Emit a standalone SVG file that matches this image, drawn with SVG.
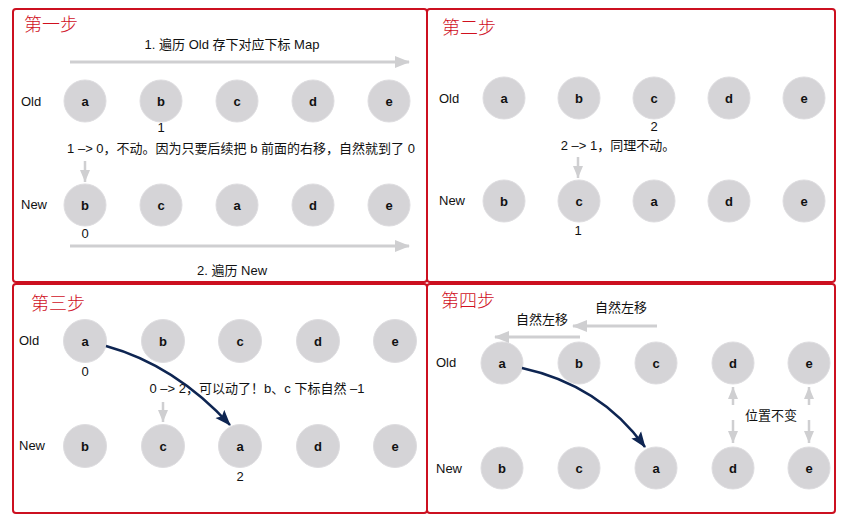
<svg xmlns="http://www.w3.org/2000/svg" width="846" height="517" viewBox="0 0 846 517">
<style>
.panel{fill:#fff;stroke:#cc1020;stroke-width:2}
.title{font-family:"Noto Sans CJK SC","Liberation Sans",sans-serif;font-size:18px;font-weight:300;fill:#d0101e}
.t{font-family:"Liberation Sans","Noto Sans CJK SC",sans-serif;font-size:13px;fill:#111}
.lbl{font-family:"Liberation Sans","Noto Sans CJK SC",sans-serif;font-size:13px;fill:#111}
.n circle{fill:#d5d4d7;stroke:#dedde0;stroke-width:1}
.n text{font-family:"Liberation Sans",sans-serif;font-size:13px;fill:#111;text-anchor:middle;font-weight:bold}
.ga{stroke:#cfcfd1;stroke-width:3;fill:none}
.gs{stroke:#cfcfd1;stroke-width:2.5;fill:none}
.nv{stroke:#0e2552;stroke-width:2.5;fill:none}
</style>
<defs>
<marker id="ghead" markerUnits="userSpaceOnUse" markerWidth="16" markerHeight="14" refX="14" refY="7" orient="auto"><path d="M0,1 L15,7 L0,13 Z" fill="#cfcfd1"/></marker>
<marker id="gsmall" markerUnits="userSpaceOnUse" markerWidth="14" markerHeight="11" refX="12" refY="5.5" orient="auto"><path d="M0,0.5 L12,5.5 L0,10.5 Z" fill="#cfcfd1"/></marker>
<marker id="nhead" markerUnits="userSpaceOnUse" markerWidth="18" markerHeight="14" refX="15" refY="7" orient="auto"><path d="M0,1 L16,7 L0,13 L3,7 Z" fill="#0e2552"/></marker>
</defs>
<rect width="846" height="517" fill="#fff"/>
<g id="panel1">
<rect class="panel" x="13" y="9" width="414" height="273" rx="3"/>
<text class="title" x="24" y="31">第一步</text>
<text class="t" x="232" y="49" text-anchor="middle">1. 遍历 Old 存下对应下标 Map</text>
<text class="lbl" x="21" y="106">Old</text>
<text class="lbl" x="21" y="209">New</text>
<text class="t" x="161" y="132" text-anchor="middle">1</text>
<text class="t" x="241" y="153" text-anchor="middle">1 –&gt; 0，不动。因为只要后续把 b 前面的右移，自然就到了 0</text>
<text class="t" x="85" y="238" text-anchor="middle">0</text>
<text class="t" x="232" y="275" text-anchor="middle">2. 遍历 New</text>
</g>
<g id="p1-old-a" class="n"><circle cx="85" cy="101" r="21"/><text x="85" y="106">a</text></g>
<g id="p1-old-b" class="n"><circle cx="161" cy="101" r="21"/><text x="161" y="106">b</text></g>
<g id="p1-old-c" class="n"><circle cx="237" cy="101" r="21"/><text x="237" y="106">c</text></g>
<g id="p1-old-d" class="n"><circle cx="313" cy="101" r="21"/><text x="313" y="106">d</text></g>
<g id="p1-old-e" class="n"><circle cx="389" cy="101" r="21"/><text x="389" y="106">e</text></g>
<g id="p1-new-b" class="n"><circle cx="85" cy="205" r="21"/><text x="85" y="210">b</text></g>
<g id="p1-new-c" class="n"><circle cx="161" cy="205" r="21"/><text x="161" y="210">c</text></g>
<g id="p1-new-a" class="n"><circle cx="237" cy="205" r="21"/><text x="237" y="210">a</text></g>
<g id="p1-new-d" class="n"><circle cx="313" cy="205" r="21"/><text x="313" y="210">d</text></g>
<g id="p1-new-e" class="n"><circle cx="389" cy="205" r="21"/><text x="389" y="210">e</text></g>

<g id="panel2">
<rect class="panel" x="427" y="9" width="408" height="273" rx="3"/>
<text class="title" x="442" y="34">第二步</text>
<text class="lbl" x="439" y="103">Old</text>
<text class="lbl" x="439" y="205">New</text>
<text class="t" x="654" y="131" text-anchor="middle">2</text>
<text class="t" x="618" y="150" text-anchor="middle">2 –&gt; 1，同理不动。</text>
<text class="t" x="578" y="235" text-anchor="middle">1</text>
</g>
<g id="p2-old-a" class="n"><circle cx="504" cy="98" r="21"/><text x="504" y="103">a</text></g>
<g id="p2-old-b" class="n"><circle cx="579" cy="98" r="21"/><text x="579" y="103">b</text></g>
<g id="p2-old-c" class="n"><circle cx="654" cy="98" r="21"/><text x="654" y="103">c</text></g>
<g id="p2-old-d" class="n"><circle cx="729" cy="98" r="21"/><text x="729" y="103">d</text></g>
<g id="p2-old-e" class="n"><circle cx="804" cy="98" r="21"/><text x="804" y="103">e</text></g>
<g id="p2-new-b" class="n"><circle cx="504" cy="201" r="21"/><text x="504" y="206">b</text></g>
<g id="p2-new-c" class="n"><circle cx="579" cy="201" r="21"/><text x="579" y="206">c</text></g>
<g id="p2-new-a" class="n"><circle cx="654" cy="201" r="21"/><text x="654" y="206">a</text></g>
<g id="p2-new-d" class="n"><circle cx="729" cy="201" r="21"/><text x="729" y="206">d</text></g>
<g id="p2-new-e" class="n"><circle cx="804" cy="201" r="21"/><text x="804" y="206">e</text></g>

<g id="panel3">
<rect class="panel" x="13" y="284" width="414" height="229" rx="3"/>
<text class="title" x="31" y="310">第三步</text>
<text class="lbl" x="19" y="345">Old</text>
<text class="lbl" x="19" y="450">New</text>
<text class="t" x="85" y="376" text-anchor="middle">0</text>
<text class="t" x="257" y="393" text-anchor="middle">0 –&gt; 2，可以动了！b、c 下标自然 –1</text>
<text class="t" x="240" y="481" text-anchor="middle">2</text>
</g>
<g id="p3-old-a" class="n"><circle cx="85" cy="341" r="21.5"/><text x="85" y="346">a</text></g>
<g id="p3-old-b" class="n"><circle cx="163" cy="341" r="21.5"/><text x="163" y="346">b</text></g>
<g id="p3-old-c" class="n"><circle cx="240" cy="341" r="21.5"/><text x="240" y="346">c</text></g>
<g id="p3-old-d" class="n"><circle cx="318" cy="341" r="21.5"/><text x="318" y="346">d</text></g>
<g id="p3-old-e" class="n"><circle cx="395" cy="341" r="21.5"/><text x="395" y="346">e</text></g>
<g id="p3-new-b" class="n"><circle cx="85" cy="446" r="21.5"/><text x="85" y="451">b</text></g>
<g id="p3-new-c" class="n"><circle cx="163" cy="446" r="21.5"/><text x="163" y="451">c</text></g>
<g id="p3-new-a" class="n"><circle cx="240" cy="446" r="21.5"/><text x="240" y="451">a</text></g>
<g id="p3-new-d" class="n"><circle cx="318" cy="446" r="21.5"/><text x="318" y="451">d</text></g>
<g id="p3-new-e" class="n"><circle cx="395" cy="446" r="21.5"/><text x="395" y="451">e</text></g>

<g id="panel4">
<rect class="panel" x="427" y="284" width="408" height="229" rx="3"/>
<text class="title" x="441" y="307">第四步</text>
<text class="t" x="621" y="312" text-anchor="middle">自然左移</text>
<text class="t" x="542" y="324" text-anchor="middle">自然左移</text>
<text class="lbl" x="436" y="367">Old</text>
<text class="lbl" x="436" y="473">New</text>
<text class="t" x="771" y="420" text-anchor="middle">位置不变</text>
</g>
<g id="p4-old-a" class="n"><circle cx="502" cy="363" r="21"/><text x="502" y="368">a</text></g>
<g id="p4-old-b" class="n"><circle cx="579" cy="363" r="21"/><text x="579" y="368">b</text></g>
<g id="p4-old-c" class="n"><circle cx="656" cy="363" r="21"/><text x="656" y="368">c</text></g>
<g id="p4-old-d" class="n"><circle cx="733" cy="363" r="21"/><text x="733" y="368">d</text></g>
<g id="p4-old-e" class="n"><circle cx="809" cy="363" r="21"/><text x="809" y="368">e</text></g>
<g id="p4-new-b" class="n"><circle cx="502" cy="468" r="21"/><text x="502" y="473">b</text></g>
<g id="p4-new-c" class="n"><circle cx="579" cy="468" r="21"/><text x="579" y="473">c</text></g>
<g id="p4-new-a" class="n"><circle cx="656" cy="468" r="21"/><text x="656" y="473">a</text></g>
<g id="p4-new-d" class="n"><circle cx="733" cy="468" r="21"/><text x="733" y="473">d</text></g>
<g id="p4-new-e" class="n"><circle cx="809" cy="468" r="21"/><text x="809" y="473">e</text></g>

<g id="connectors">
<line class="ga" x1="70" y1="62" x2="409" y2="62" marker-end="url(#ghead)"/>
<line class="ga" x1="70" y1="246" x2="409" y2="246" marker-end="url(#ghead)"/>
<line class="gs" x1="85" y1="161" x2="85" y2="182" marker-end="url(#gsmall)"/>
<line class="gs" x1="578" y1="157" x2="578" y2="178" marker-end="url(#gsmall)"/>
<line class="gs" x1="163" y1="402" x2="163" y2="422" marker-end="url(#gsmall)"/>
<path class="nv" d="M106,346 Q175,365 230,425" marker-end="url(#nhead)"/>
<line class="ga" x1="657" y1="326" x2="573" y2="326" marker-end="url(#ghead)"/>
<line class="ga" x1="580" y1="337" x2="495" y2="337" marker-end="url(#ghead)"/>
<path class="nv" d="M522,368 Q600,385 645,447" marker-end="url(#nhead)"/>
<line class="gs" x1="733" y1="405" x2="733" y2="387" marker-end="url(#gsmall)"/>
<line class="gs" x1="733" y1="420" x2="733" y2="443" marker-end="url(#gsmall)"/>
<line class="gs" x1="809" y1="405" x2="809" y2="387" marker-end="url(#gsmall)"/>
<line class="gs" x1="809" y1="420" x2="809" y2="443" marker-end="url(#gsmall)"/>
</g>
</svg>
